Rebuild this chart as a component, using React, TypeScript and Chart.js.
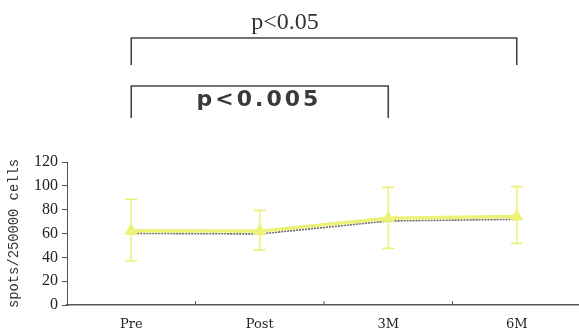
import React, { useEffect, useRef } from "react";
import { Chart, registerables } from "chart.js";

Chart.register(...registerables);

const categories = ["Pre", "Post", "3M", "6M"];
const meanValues = [62.3, 62.0, 72.7, 74.2];
const grayValues = [60.1, 59.6, 70.5, 71.9];
const errUpper = [88.7, 79.4, 98.7, 99.3];
const errLower = [36.9, 46.1, 47.5, 51.7];
const yTicks = [0, 20, 40, 60, 80, 100, 120];
const brackets = [
  { from: 0, to: 3, label: "p<0.05" },
  { from: 0, to: 2, label: "p<0.005" },
];

const YELLOW = "#ecf277";
const AXIS = "#555555";

const overlayPlugin = {
  id: "overlay",
  afterDatasetsDraw(chart: any) {
    const ctx = chart.ctx;
    const x = chart.scales.x;
    const y = chart.scales.y;
    ctx.save();
    ctx.strokeStyle = YELLOW;
    ctx.lineWidth = 1.6;
    for (let i = 0; i < categories.length; i++) {
      const px = x.getPixelForValue(i);
      const top = y.getPixelForValue(errUpper[i]);
      const bot = y.getPixelForValue(errLower[i]);
      ctx.beginPath();
      ctx.moveTo(px, top);
      ctx.lineTo(px, bot);
      ctx.moveTo(px - 6, top);
      ctx.lineTo(px + 6, top);
      ctx.moveTo(px - 6, bot);
      ctx.lineTo(px + 6, bot);
      ctx.stroke();
    }
    ctx.restore();
  },
  afterDraw(chart: any) {
    const ctx = chart.ctx;
    const x = chart.scales.x;
    const area = chart.chartArea;
    ctx.save();
    ctx.strokeStyle = AXIS;
    ctx.lineWidth = 1;
    for (let i = 0; i < categories.length - 1; i++) {
      const px = (x.getPixelForValue(i) + x.getPixelForValue(i + 1)) / 2;
      ctx.beginPath();
      ctx.moveTo(px, area.bottom);
      ctx.lineTo(px, area.bottom - 4);
      ctx.stroke();
    }
    ctx.strokeStyle = "#444444";
    ctx.lineWidth = 1.6;
    const b0 = brackets[0];
    const b1 = brackets[1];
    const x00 = x.getPixelForValue(b0.from);
    const x01 = x.getPixelForValue(b0.to);
    ctx.beginPath();
    ctx.moveTo(x00, 65);
    ctx.lineTo(x00, 38);
    ctx.lineTo(x01, 38);
    ctx.lineTo(x01, 65);
    ctx.stroke();
    const x10 = x.getPixelForValue(b1.from);
    const x11 = x.getPixelForValue(b1.to);
    ctx.beginPath();
    ctx.moveTo(x10, 118);
    ctx.lineTo(x10, 86);
    ctx.lineTo(x11, 86);
    ctx.lineTo(x11, 118);
    ctx.stroke();

    ctx.fillStyle = "#333333";
    ctx.textAlign = "center";
    ctx.textBaseline = "alphabetic";
    ctx.font = "24px 'Liberation Serif'";
    ctx.fillText(b0.label, 285, 29);
    ctx.fillStyle = "#3a3a3a";
    ctx.font = "600 22px 'DejaVu Sans'";
    (ctx as any).letterSpacing = "3px";
    ctx.fillText(b1.label, 259, 106);
    ctx.restore();
  },
};

export default function App() {
  const ref = useRef<HTMLCanvasElement | null>(null);
  useEffect(() => {
    if (!ref.current) return;
    const chart = new Chart(ref.current, {
      type: "line",
      data: {
        labels: categories,
        datasets: [
          {
            label: "yellow",
            data: meanValues,
            borderColor: YELLOW,
            backgroundColor: YELLOW,
            borderWidth: 3.5,
            pointStyle: "triangle",
            pointRadius: 7,
            pointBorderWidth: 1,
            order: 1,
          },
          {
            label: "gray",
            data: grayValues,
            borderColor: "#6a6a6a",
            backgroundColor: "#6a6a6a",
            borderWidth: 1.6,
            borderDash: [2, 1],
            pointStyle: "line",
            pointRadius: 4,
            pointBorderWidth: 1.5,
            order: 2,
          },
        ],
      },
      options: {
        animation: false,
        responsive: false,
        maintainAspectRatio: false,
        layout: { padding: { top: 162, left: 0, right: 0, bottom: 0 } },
        plugins: {
          legend: { display: false },
          tooltip: { enabled: false },
        },
        scales: {
          x: {
            type: "category",
            offset: true,
            grid: { display: false, drawTicks: false },
            border: { color: AXIS, width: 1.5 },
            ticks: {
              padding: 12,
              color: "#222",
              font: { family: "'DejaVu Serif'", size: 13 },
            },
            afterFit(scale: any) {
              scale.height = 29;
            },
          },
          y: {
            min: 0,
            max: 120,
            afterBuildTicks(scale: any) {
              scale.ticks = yTicks.map((v) => ({ value: v }));
            },
            grid: {
              drawOnChartArea: false,
              drawTicks: true,
              tickLength: 5,
              color: AXIS,
            },
            border: { color: AXIS, width: 1 },
            ticks: {
              padding: 4,
              color: "#222",
              font: { family: "'Liberation Serif'", size: 16 },
            },
            title: {
              display: true,
              text: "spots/250000 cells",
              color: "#333",
              padding: { top: 6, bottom: 0 },
              font: { family: "'Liberation Mono'", size: 13.8 },
            },
            afterFit(scale: any) {
              scale.width = 67;
            },
          },
        },
      },
      plugins: [overlayPlugin],
    });
    return () => chart.destroy();
  }, []);
  return (
    <div
      style={{
        position: "fixed",
        left: 0,
        top: 0,
        width: 579,
        height: 334,
        overflow: "hidden",
        background: "#fff",
      }}
    >
      <canvas ref={ref} width={589} height={334} style={{ width: 589, height: 334, display: "block" }} />
    </div>
  );
}
